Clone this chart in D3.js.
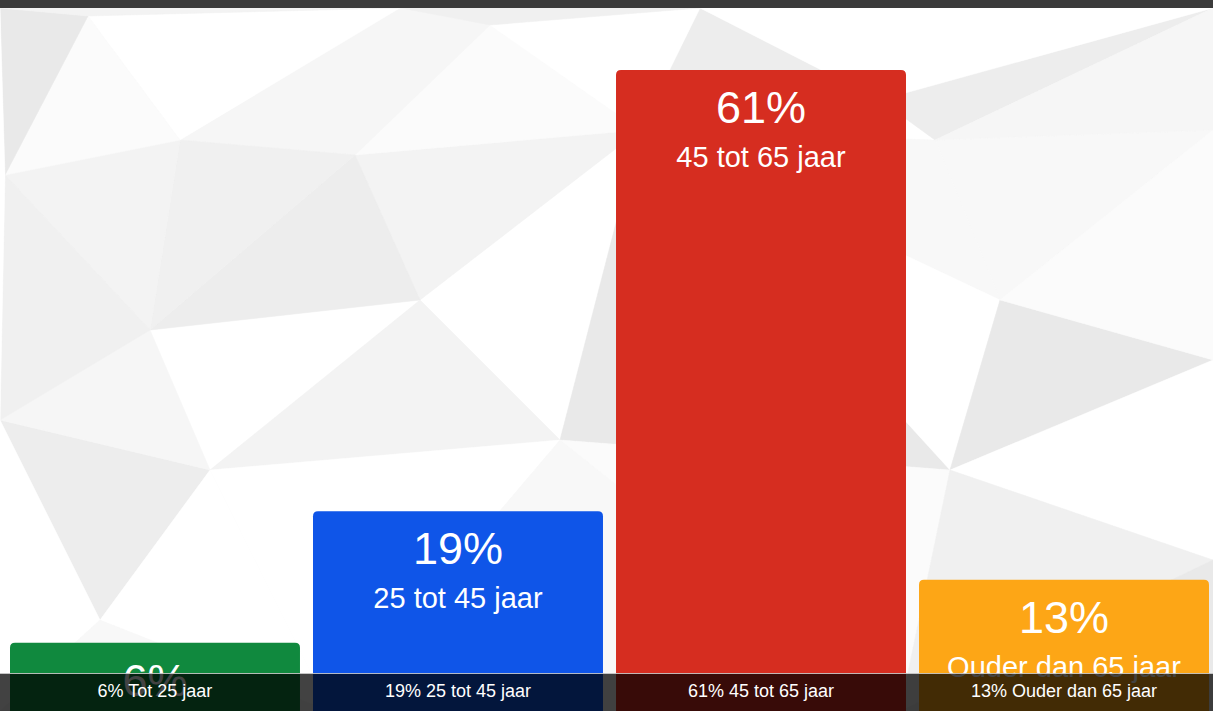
<!DOCTYPE html>
<html>
<head>
<meta charset="utf-8">
<script src="https://cdn.jsdelivr.net/npm/d3@7"></script>
<style>
  html, body { margin: 0; padding: 0; background: #fff; overflow: hidden; }
  svg { display: block; font-family: "Liberation Sans", Arial, Helvetica, sans-serif; }
</style>
</head>
<body>
<div id="chart"></div>
<script>
// age groups and their share
const categories = ['Tot 25 jaar', '25 tot 45 jaar', '45 tot 65 jaar', 'Ouder dan 65 jaar'];
const shareValues = [6.5, 19, 61, 12.5];
const shareLabels = ['6%', '19%', '61%', '13%'];
const barColors = ['#10893e', '#0f55e8', '#d62d20', '#fda616'];

// low-poly backdrop vertices and shades
const bgPoints = [
  [0, 8], [400, 8], [700, 8], [1213, 8],
  [88, 16], [5, 175], [180, 140], [355, 155], [490, 25], [640, 130],
  [880, 100], [935, 140], [1213, 130], [150, 330], [420, 300],
  [0, 420], [210, 470], [560, 440], [1000, 300], [1213, 360],
  [950, 470], [0, 711], [330, 711], [900, 711], [1213, 711],
  [1213, 560], [100, 620]
];
const bgShades = ['#ffffff', '#f3f3f3', '#fbfbfb', '#ededed', '#ffffff', '#f6f6f6', '#f0f0f0', '#ffffff', '#f8f8f8', '#e9e9e9'];

const width = 1213, height = 711;
const topBar = 8;
const stripTop = 673;

const svg = d3.select('#chart').append('svg')
  .attr('width', width)
  .attr('height', height);

// background triangles
const delaunay = d3.Delaunay.from(bgPoints);
const tris = [];
for (let i = 0; i < delaunay.triangles.length; i += 3) {
  tris.push([delaunay.triangles[i], delaunay.triangles[i + 1], delaunay.triangles[i + 2]]);
}
svg.append('rect').attr('width', width).attr('height', height).attr('fill', '#f7f7f7');
svg.append('g').selectAll('path')
  .data(tris)
  .join('path')
  .attr('d', t => 'M' + t.map(k => bgPoints[k].join(',')).join('L') + 'Z')
  .attr('fill', (t, i) => bgShades[i % bgShades.length])
  .attr('stroke', (t, i) => bgShades[i % bgShades.length])
  .attr('stroke-width', 0.5);

svg.append('rect')
  .attr('width', width)
  .attr('height', topBar)
  .attr('fill', '#3b3b3b');

const x = d3.scaleBand()
  .domain(categories)
  .range([10, 1209])
  .paddingInner(0.043)
  .paddingOuter(0);

const y = d3.scaleLinear()
  .domain([0, d3.max(shareValues)])
  .range([height, 70]);

const rows = categories.map((c, i) => ({ name: c, value: shareValues[i], label: shareLabels[i], color: barColors[i] }));

// bar with rounded top corners
function barPath(d) {
  const x0 = x(d.name), w = x.bandwidth(), y0 = y(d.value), r = 5;
  return `M${x0},${height}V${y0 + r}Q${x0},${y0} ${x0 + r},${y0}H${x0 + w - r}Q${x0 + w},${y0} ${x0 + w},${y0 + r}V${height}Z`;
}

const bar = svg.append('g').selectAll('g')
  .data(rows)
  .join('g');

bar.append('path')
  .attr('d', barPath)
  .attr('fill', d => d.color);

bar.append('text')
  .attr('x', d => x(d.name) + x.bandwidth() / 2)
  .attr('y', d => y(d.value) + 53)
  .attr('text-anchor', 'middle')
  .attr('fill', '#fff')
  .attr('font-size', 45)
  .text(d => d.label);

bar.append('text')
  .attr('x', d => x(d.name) + x.bandwidth() / 2)
  .attr('y', d => y(d.value) + 97)
  .attr('text-anchor', 'middle')
  .attr('fill', '#fff')
  .attr('font-size', 29)
  .text(d => d.name);

// bottom caption strip
svg.append('rect')
  .attr('x', 0)
  .attr('y', stripTop)
  .attr('width', width)
  .attr('height', height - stripTop)
  .attr('fill', 'rgba(0,0,0,0.74)');

svg.append('line')
  .attr('x1', 0).attr('x2', width)
  .attr('y1', stripTop + 0.5).attr('y2', stripTop + 0.5)
  .attr('stroke', 'rgba(255,255,255,0.7)')
  .attr('stroke-width', 1);

svg.append('g').selectAll('text')
  .data(rows)
  .join('text')
  .attr('x', d => x(d.name) + x.bandwidth() / 2)
  .attr('y', 697)
  .attr('text-anchor', 'middle')
  .attr('fill', '#fff')
  .attr('font-size', 18)
  .text(d => `${d.label} ${d.name}`);
</script>
</body>
</html>
